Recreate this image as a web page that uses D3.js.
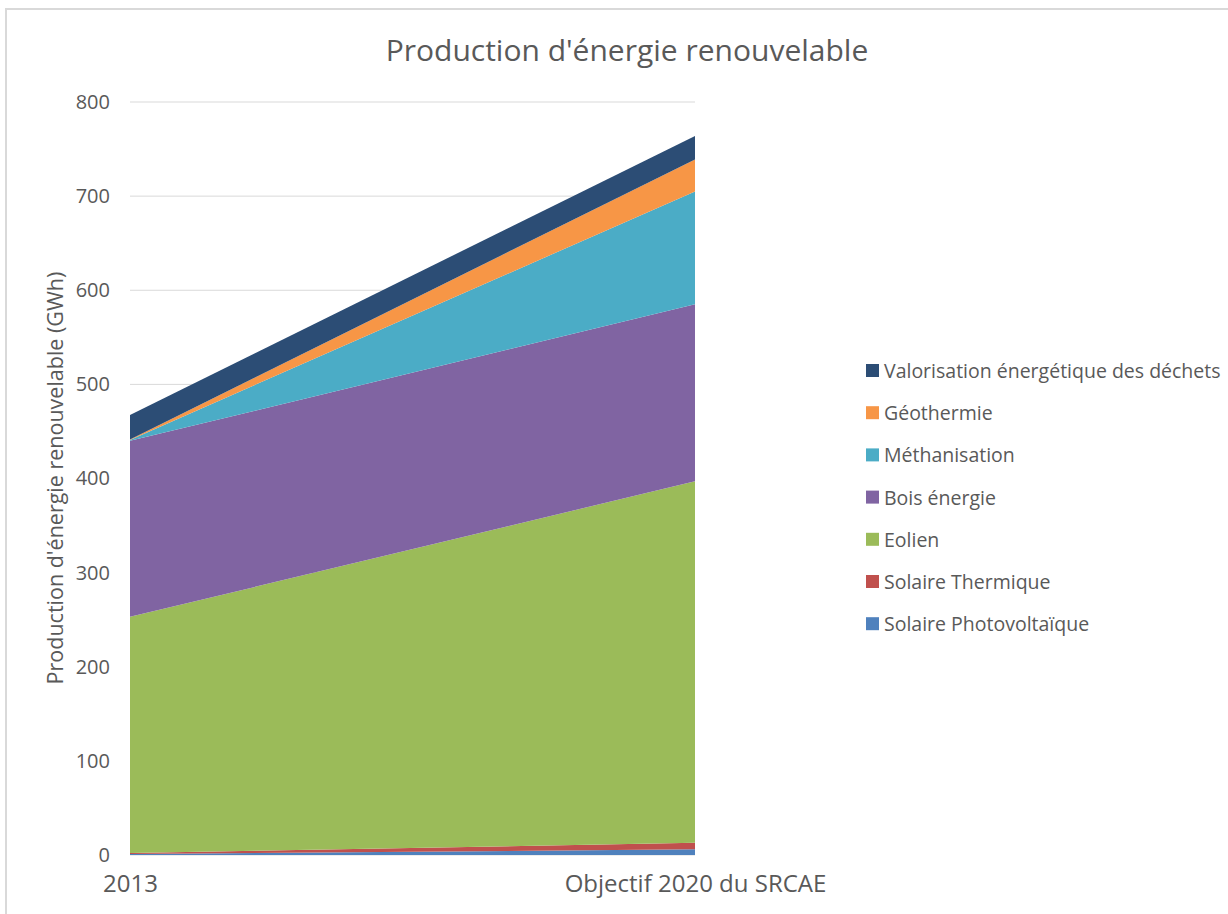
<!DOCTYPE html>
<html>
<head>
<meta charset="utf-8">
<script src="https://cdn.jsdelivr.net/npm/d3@7"></script>
<style>
  body { margin: 0; background: #fff; }
  text { font-family: "Open Sans", sans-serif; fill: #595959; }
</style>
</head>
<body>
<div id="chart"></div>
<script>
// categories and series (GWh)
var categories = ["2013", "Objectif 2020 du SRCAE"];
var seriesNames = ["Solaire Photovoltaïque", "Solaire Thermique", "Eolien", "Bois énergie",
  "Méthanisation", "Géothermie", "Valorisation énergétique des déchets"];
var pv = [1, 6];
var thermique = [1, 7];
var eolien = [251, 384];
var bois = [187, 188];
var methanisation = [1, 120];
var geothermie = [0.5, 34];
var dechets = [26, 25];
var yTicks = [0, 100, 200, 300, 400, 500, 600, 700, 800];
var colors = ["#4F81BD", "#C0504D", "#9BBB59", "#8064A2", "#4BACC6", "#F79646", "#2C4D75"];

var values = [pv, thermique, eolien, bois, methanisation, geothermie, dechets];

var svgWidth = 1228, svgHeight = 914;
var margin = { top: 102, left: 130 };
var width = 565, height = 753;

var svg = d3.select("#chart").append("svg")
  .attr("width", svgWidth)
  .attr("height", svgHeight);

// outer frame
svg.append("rect")
  .attr("x", 6).attr("y", 9)
  .attr("width", svgWidth + 20).attr("height", svgHeight + 20)
  .attr("fill", "none").attr("stroke", "#d9d9d9").attr("stroke-width", 2);

var g = svg.append("g").attr("transform", "translate(" + margin.left + "," + margin.top + ")");

var x = d3.scalePoint().domain(categories).range([0, width]);
var y = d3.scaleLinear().domain([0, 800]).range([height, 0]);

// gridlines
g.selectAll(".grid").data(yTicks).enter().append("line")
  .attr("x1", 0).attr("x2", width)
  .attr("y1", function (d) { return y(d); })
  .attr("y2", function (d) { return y(d); })
  .attr("stroke", "#d9d9d9").attr("stroke-width", 1);

// stack data
var table = categories.map(function (c, i) {
  var row = { cat: c };
  seriesNames.forEach(function (s, k) { row[s] = values[k][i]; });
  return row;
});
var stack = d3.stack().keys(seriesNames)(table);

var area = d3.area()
  .x(function (d) { return x(d.data.cat); })
  .y0(function (d) { return y(d[0]); })
  .y1(function (d) { return y(d[1]); });

g.selectAll(".layer").data(stack).enter().append("path")
  .attr("d", area)
  .attr("fill", function (d, i) { return colors[i]; });

// y axis labels
var yAxis = d3.axisLeft(y).tickValues(yTicks).tickSize(0).tickPadding(20);
var ya = g.append("g").call(yAxis);
ya.select(".domain").remove();
ya.selectAll("text").style("font-size", "20px").attr("fill", "#595959")
  .style("font-family", "'Open Sans', sans-serif");

// x axis labels
var xAxis = d3.axisBottom(x).tickSize(0).tickPadding(0);
var xa = g.append("g").attr("transform", "translate(0," + height + ")").call(xAxis);
xa.select(".domain").remove();
xa.selectAll("text").style("font-size", "24px").attr("fill", "#595959")
  .attr("dy", null).attr("y", 37)
  .style("font-family", "'Open Sans', sans-serif");

// title
svg.append("text")
  .attr("x", 627).attr("y", 61)
  .attr("text-anchor", "middle")
  .style("font-size", "30px")
  .text("Production d'énergie renouvelable");

// y axis title
svg.append("text")
  .attr("transform", "translate(63,478) rotate(-90)")
  .attr("text-anchor", "middle")
  .style("font-size", "21.5px")
  .text("Production d'énergie renouvelable (GWh)");

// legend (top to bottom in reverse order)
var legendItems = seriesNames.map(function (s, i) { return { name: s, color: colors[i] }; }).reverse();
var legend = svg.selectAll(".legend").data(legendItems).enter().append("g")
  .attr("transform", function (d, i) { return "translate(866," + (371 + i * 42.2) + ")"; });
legend.append("rect")
  .attr("x", 0).attr("y", -7).attr("width", 13).attr("height", 13)
  .attr("fill", function (d) { return d.color; });
legend.append("text")
  .attr("x", 18).attr("y", 7)
  .style("font-size", "19.5px")
  .text(function (d) { return d.name; });
</script>
</body>
</html>
